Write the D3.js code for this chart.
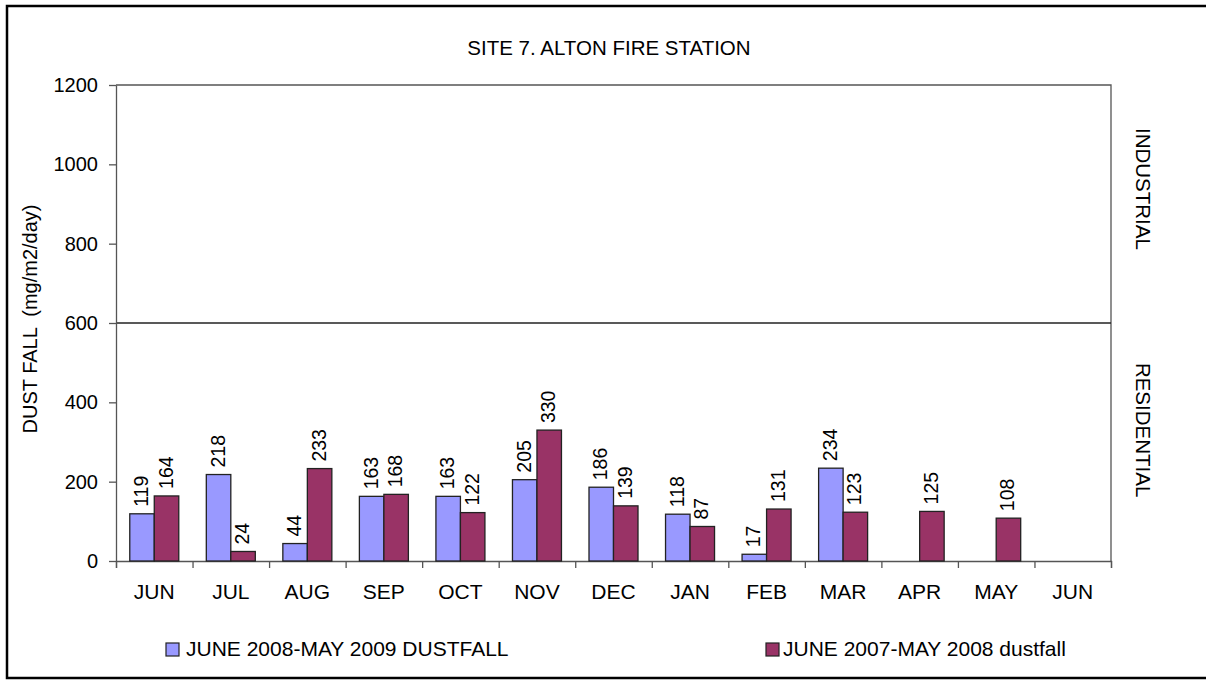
<!DOCTYPE html>
<html>
<head>
<meta charset="utf-8">
<script src="https://cdn.jsdelivr.net/npm/d3@7"></script>
<style>
html,body{margin:0;padding:0;background:#fff;}
svg{display:block;font-family:"Liberation Sans", Arial, sans-serif;}
text{white-space:pre;}
</style>
</head>
<body>
<svg id="chart" width="1206" height="682"></svg>
<script>
const months = ["JUN","JUL","AUG","SEP","OCT","NOV","DEC","JAN","FEB","MAR","APR","MAY","JUN"];
const series2009 = [119,218,44,163,163,205,186,118,17,234,null,null,null];
const series2008 = [164,24,233,168,122,330,139,87,131,123,125,108,null];
const seriesNames = ["JUNE 2008-MAY 2009 DUSTFALL","JUNE 2007-MAY 2008 dustfall"];
const yTicks = [0,200,400,600,800,1000,1200];
const colors = ["#9999FF","#993366"];
const thresholdValue = 600;

const svg = d3.select("#chart");
// outer border
svg.append("rect").attr("x",7).attr("y",6).attr("width",1210).attr("height",672)
  .attr("fill","none").attr("stroke","#000").attr("stroke-width",2.5);

const L=116, R=1111, T=85, B=561;
const x = d3.scaleBand().domain(months.map((m,i)=>i)).range([L,R]);
const y = d3.scaleLinear().domain([0,1200]).range([B,T]);
const sub = d3.scaleBand().domain([0,1]).range([0,49]);
const groupOffset = (x.bandwidth()-49)/2;

// title
svg.append("text").attr("x",609).attr("y",55).attr("text-anchor","middle")
  .attr("font-size",20.5).text("SITE 7. ALTON FIRE STATION");

// plot box top/right
svg.append("path").attr("d",`M${L},${T}H${R}V${B}`).attr("fill","none").attr("stroke","#555").attr("stroke-width",1.3);
// threshold line
svg.append("line").attr("x1",L).attr("x2",R).attr("y1",y(thresholdValue)).attr("y2",y(thresholdValue))
  .attr("stroke","#222").attr("stroke-width",1.3);

// y axis
const ya = svg.append("g").attr("transform",`translate(${L},0)`)
  .call(d3.axisLeft(y).tickValues(yTicks).tickSize(7).tickSizeOuter(0).tickPadding(11).tickFormat(d3.format("d")));
ya.select(".domain").attr("stroke","#555").attr("stroke-width",1.3);
ya.selectAll(".tick line").attr("stroke","#555").attr("stroke-width",1.3);
ya.selectAll(".tick text").attr("font-size",20).attr("fill","#000").attr("font-family","Liberation Sans, Arial, sans-serif");

// x axis
const xb = d3.scaleLinear().domain([0,months.length]).range([L,R]);
const xa = svg.append("g").attr("transform",`translate(0,${B})`)
  .call(d3.axisBottom(xb).tickValues(d3.range(months.length+1)).tickSize(7).tickFormat(""));
xa.select(".domain").attr("stroke","#555").attr("stroke-width",1.3);
xa.selectAll(".tick line").attr("stroke","#555").attr("stroke-width",1.3);
svg.append("g").selectAll("text").data(months).join("text")
  .attr("x",(d,i)=>x(i)+x.bandwidth()/2).attr("y",599).attr("text-anchor","middle")
  .attr("font-size",21).text(d=>d);

// bars
[series2009, series2008].forEach((ser,si)=>{
  const g = svg.append("g");
  const data = ser.map((v,i)=>({i,v})).filter(d=>d.v!==null);
  g.selectAll("rect").data(data).join("rect")
    .attr("x",d=>x(d.i)+groupOffset+sub(si))
    .attr("y",d=>y(d.v))
    .attr("width",sub.bandwidth())
    .attr("height",d=>B-y(d.v))
    .attr("fill",colors[si]).attr("stroke","#222").attr("stroke-width",1.3);
  g.selectAll("text").data(data).join("text")
    .attr("transform",d=>`translate(${x(d.i)+groupOffset+sub(si)+sub.bandwidth()/2+6},${y(d.v)-7}) rotate(-90)`)
    .attr("font-size",19.5).text(d=>d.v);
});

// y label
svg.append("text").attr("transform","translate(37,319) rotate(-90)").attr("text-anchor","middle")
  .attr("font-size",20).text("DUST FALL  (mg/m2/day)");

// right zone labels
svg.append("text").attr("transform",`translate(1136,${y(938)}) rotate(90)`).attr("text-anchor","middle")
  .attr("font-size",20.5).text("INDUSTRIAL");
svg.append("text").attr("transform",`translate(1136,${y(330)}) rotate(90)`).attr("text-anchor","middle")
  .attr("font-size",20.5).text("RESIDENTIAL");

// legend
const legendX = [166,766];
const legendTextX = [186,783];
seriesNames.forEach((n,i)=>{
  svg.append("rect").attr("x",legendX[i]).attr("y",643).attr("width",13).attr("height",13)
    .attr("fill",colors[i]).attr("stroke","#222").attr("stroke-width",1.2);
  svg.append("text").attr("x",legendTextX[i]).attr("y",656).attr("font-size",21).text(n);
});
</script>
</body>
</html>
